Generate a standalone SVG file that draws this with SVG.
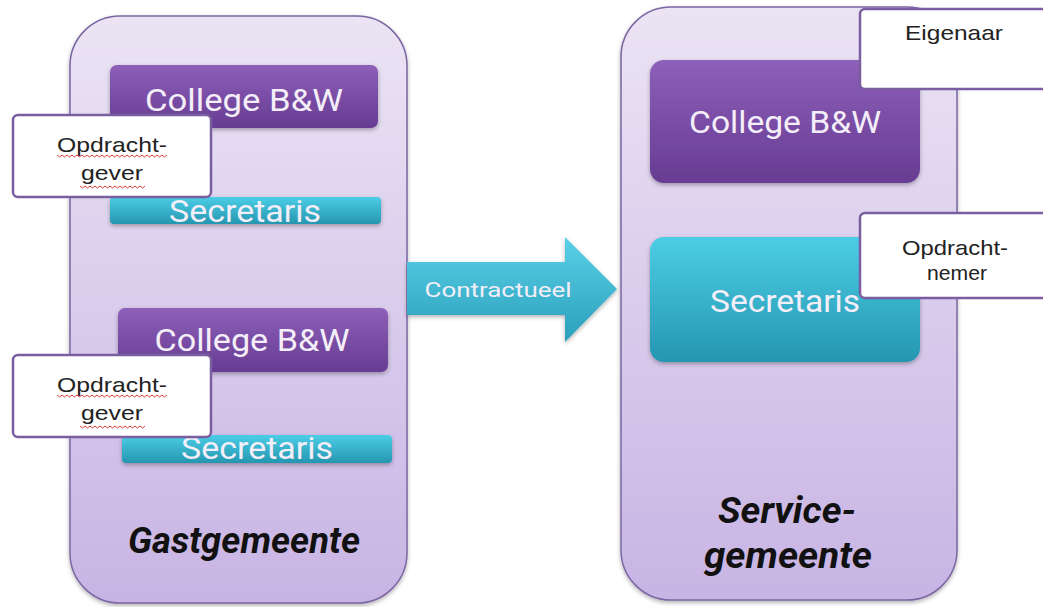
<svg xmlns="http://www.w3.org/2000/svg" width="1043" height="607" viewBox="0 0 1043 607">
<defs>
<linearGradient id="gCont" x1="0" y1="0" x2="0" y2="1">
<stop offset="0" stop-color="#ebe4f4"/><stop offset="1" stop-color="#c8b4e4"/>
</linearGradient>
<linearGradient id="gPurple" x1="0" y1="0" x2="0" y2="1">
<stop offset="0" stop-color="#8d5fb9"/><stop offset="1" stop-color="#673c92"/>
</linearGradient>
<linearGradient id="gTeal" x1="0" y1="0" x2="0" y2="1">
<stop offset="0" stop-color="#4ccde6"/><stop offset="1" stop-color="#2596b0"/>
</linearGradient>
<linearGradient id="gArrow" x1="0" y1="0" x2="0" y2="1">
<stop offset="0" stop-color="#5ad0e8"/><stop offset="1" stop-color="#2a9fba"/>
</linearGradient>
<filter id="sh" x="-10%" y="-10%" width="120%" height="130%">
<feDropShadow dx="0" dy="2" stdDeviation="2" flood-color="#000" flood-opacity="0.3"/>
</filter>
<path id="squigL" d="M0 0 l2.5 2 l2.5 -2 l2.5 2 l2.5 -2 l2.5 2 l2.5 -2 l2.5 2 l2.5 -2 l2.5 2 l2.5 -2 l2.5 2 l2.5 -2 l2.5 2 l2.5 -2 l2.5 2 l2.5 -2 l2.5 2 l2.5 -2 l2.5 2 l2.5 -2 l2.5 2 l2.5 -2 l2.5 2 l2.5 -2 l2.5 2 l2.5 -2 l2.5 2 l2.5 -2 l2.5 2 l2.5 -2 l2.5 2 l2.5 -2 l2.5 2 l2.5 -2 l2.5 2 l2.5 -2 l2.5 2 l2.5 -2 l2.5 2 l2.5 -2 l2.5 2 l2.5 -2 l2.5 2 l2.5 -2" fill="none" stroke="#d83a3a" stroke-width="1"/>
<path id="squigS" d="M0 0 l2.5 2 l2.5 -2 l2.5 2 l2.5 -2 l2.5 2 l2.5 -2 l2.5 2 l2.5 -2 l2.5 2 l2.5 -2 l2.5 2 l2.5 -2 l2.5 2 l2.5 -2 l2.5 2 l2.5 -2 l2.5 2 l2.5 -2 l2.5 2 l2.5 -2 l2.5 2 l2.5 -2 l2.5 2 l2.5 -2 l2.5 2 l2.5 -2" fill="none" stroke="#d83a3a" stroke-width="1"/>
</defs>
<style>
.cont{fill:url(#gCont);stroke:#7b66a3;stroke-width:1.5;filter:url(#sh)}
.pbox{fill:url(#gPurple);filter:url(#sh)}
.tbox{fill:url(#gTeal);filter:url(#sh)}
.lbl{fill:#ffffff;stroke:#7a5ea0;stroke-width:2.5}
.wt{font-family:Roboto,"Liberation Sans",sans-serif;fill:#f4eef9;text-anchor:middle}
.bt{font-family:"Liberation Sans",Arial,sans-serif;fill:#222;text-anchor:middle;font-size:21px}
.title{font-family:Roboto,"Liberation Sans",sans-serif;font-weight:bold;font-style:italic;fill:#111;text-anchor:middle;font-size:36px}
</style>
<rect width="1043" height="607" fill="#ffffff"/>
<g id="gastgemeente">
<rect class="cont" x="70" y="16" width="337" height="587" rx="50"/>
<text class="title" x="244" y="553" textLength="232" lengthAdjust="spacingAndGlyphs">Gastgemeente</text>
</g>
<g id="servicegemeente">
<rect class="cont" x="621" y="7" width="336" height="593" rx="50"/>
<text class="title" x="787" y="523" textLength="138" lengthAdjust="spacingAndGlyphs">Service-</text>
<text class="title" x="788" y="568" textLength="168" lengthAdjust="spacingAndGlyphs">gemeente</text>
</g>
<g id="college1">
<rect class="pbox" x="110" y="65" width="268" height="63" rx="7"/>
<text class="wt" x="244" y="111" font-size="31" textLength="198" lengthAdjust="spacingAndGlyphs">College B&amp;W</text>
</g>
<g id="secretaris1">
<rect class="tbox" x="110" y="197" width="271" height="27" rx="4"/>
<text class="wt" x="245" y="222" font-size="31" textLength="152" lengthAdjust="spacingAndGlyphs">Secretaris</text>
</g>
<g id="opdrachtgever1">
<rect class="lbl" x="13" y="115" width="198" height="82" rx="5"/>
<text class="bt" x="112" y="152" textLength="110" lengthAdjust="spacingAndGlyphs">Opdracht-</text>
<text class="bt" x="112" y="180" textLength="62" lengthAdjust="spacingAndGlyphs">gever</text>
<use href="#squigL" x="57" y="155"/>
<use href="#squigS" x="80" y="186"/>
</g>
<g id="college2">
<rect class="pbox" x="118" y="308" width="270" height="64" rx="7"/>
<text class="wt" x="252" y="351" font-size="31" textLength="195" lengthAdjust="spacingAndGlyphs">College B&amp;W</text>
</g>
<g id="secretaris2">
<rect class="tbox" x="122" y="435" width="270" height="28" rx="4"/>
<text class="wt" x="257" y="459" font-size="31" textLength="152" lengthAdjust="spacingAndGlyphs">Secretaris</text>
</g>
<g id="opdrachtgever2">
<rect class="lbl" x="13" y="355" width="198" height="82" rx="5"/>
<text class="bt" x="112" y="392" textLength="110" lengthAdjust="spacingAndGlyphs">Opdracht-</text>
<text class="bt" x="112" y="420" textLength="62" lengthAdjust="spacingAndGlyphs">gever</text>
<use href="#squigL" x="57" y="395"/>
<use href="#squigS" x="80" y="426"/>
</g>
<g id="connectors">
<path d="M407 262 H565 V237 L617 289 L565 342 V315 H407 Z" fill="url(#gArrow)" filter="url(#sh)"/>
<text class="wt" x="498" y="297" font-size="21" textLength="147" lengthAdjust="spacingAndGlyphs">Contractueel</text>
</g>
<g id="college3">
<rect class="pbox" x="650" y="60" width="270" height="123" rx="14"/>
<text class="wt" x="785" y="133" font-size="31" textLength="192" lengthAdjust="spacingAndGlyphs">College B&amp;W</text>
</g>
<g id="secretaris3">
<rect class="tbox" x="650" y="237" width="270" height="125" rx="14"/>
<text class="wt" x="785" y="312" font-size="31" textLength="150" lengthAdjust="spacingAndGlyphs">Secretaris</text>
</g>
<g id="eigenaar">
<rect class="lbl" x="860" y="9" width="200" height="80" rx="5"/>
<text class="bt" x="954" y="40" textLength="98" lengthAdjust="spacingAndGlyphs">Eigenaar</text>
</g>
<g id="opdrachtnemer">
<rect class="lbl" x="860" y="213" width="200" height="85" rx="5"/>
<text class="bt" x="955" y="255" textLength="106" lengthAdjust="spacingAndGlyphs">Opdracht-</text>
<text class="bt" x="957" y="280" textLength="60" lengthAdjust="spacingAndGlyphs">nemer</text>
</g>
</svg>
